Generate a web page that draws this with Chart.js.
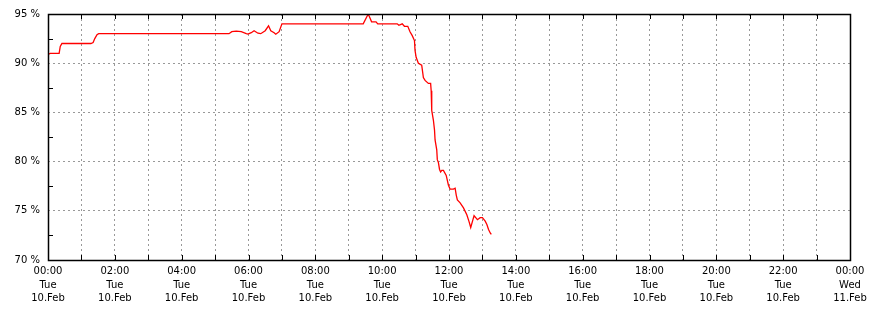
<!DOCTYPE html>
<html>
<head>
<meta charset="utf-8">
<script src="https://cdn.jsdelivr.net/npm/chart.js@4.4.1/dist/chart.umd.min.js"></script>
<style>
  html, body { margin: 0; padding: 0; background: #fff; }
  #wrap { width: 870px; height: 310px; }
</style>
</head>
<body>
<div id="wrap"><canvas id="chart" width="870" height="310"></canvas></div>
<script>
// minutes since 00:00 Tue 10.Feb
const minutes = [0, 4, 20, 22, 25, 77, 81, 84, 88, 91, 325, 330, 338, 347, 356, 359, 365, 370, 377, 382,
  390, 396, 400, 406, 409, 415, 420, 566, 575, 581, 589, 592, 627, 630, 636, 640, 646, 650, 654, 658,
  659, 661, 665, 671, 674, 677, 683, 687, 688, 689, 692, 694, 695, 698, 699, 701, 703, 705, 707, 710,
  715, 719, 722, 728, 731, 733, 735, 740, 746, 752, 756, 759, 763, 765, 768, 771, 776, 780, 785, 788,
  791, 794, 796];
// utilisation in %
const usage = [90.9, 91.0, 91.0, 91.7, 92.0, 92.0, 92.1, 92.5, 92.9, 93.0, 93.0, 93.2, 93.25, 93.2, 93.0, 92.95, 93.1, 93.3, 93.05, 93.0,
  93.3, 93.8, 93.3, 93.1, 92.95, 93.2, 94.0, 94.0, 95.0, 94.2, 94.2, 94.0, 94.0, 93.85, 94.0, 93.75, 93.75, 93.2, 92.8, 92.3,
  91.3, 90.6, 90.0, 89.8, 88.55, 88.25, 87.95, 87.95, 87.2, 85.2, 84.2, 83.2, 82.2, 81.2, 80.2, 79.9, 79.2, 78.95, 79.1, 79.1,
  78.6, 77.6, 77.2, 77.2, 77.3, 76.6, 76.1, 75.8, 75.3, 74.6, 73.9, 73.3, 74.1, 74.5, 74.3, 74.1, 74.3, 74.3, 73.95, 73.6,
  73.1, 72.75, 72.6];

const hourLabels = ["00:00", "02:00", "04:00", "06:00", "08:00", "10:00", "12:00", "14:00", "16:00", "18:00", "20:00", "22:00", "00:00"];
const dayLabels = ["Tue", "Tue", "Tue", "Tue", "Tue", "Tue", "Tue", "Tue", "Tue", "Tue", "Tue", "Tue", "Wed"];
const dateLabels = ["10.Feb", "10.Feb", "10.Feb", "10.Feb", "10.Feb", "10.Feb", "10.Feb", "10.Feb", "10.Feb", "10.Feb", "10.Feb", "10.Feb", "11.Feb"];

const points = minutes.map((m, i) => ({ x: m, y: usage[i] }));

// frame and inward tick marks
const frame = {
  id: "frame",
  afterDraw(chart) {
    const { ctx, chartArea: a, scales } = chart;
    ctx.save();
    ctx.strokeStyle = "#000";
    ctx.lineWidth = 1;
    ctx.beginPath();
    for (let m = 60; m < 1440; m += 60) {
      const x = Math.round(scales.x.getPixelForValue(m)) + 0.5;
      ctx.moveTo(x, a.top); ctx.lineTo(x, a.top + 5);
      ctx.moveTo(x, a.bottom); ctx.lineTo(x, a.bottom - 5);
    }
    for (let v = 72.5; v < 95; v += 5) {
      const y = Math.round(scales.y.getPixelForValue(v)) + 0.5;
      ctx.moveTo(a.left, y); ctx.lineTo(a.left + 5, y);
    }
    ctx.stroke();
    ctx.lineWidth = 1.5;
    ctx.strokeRect(Math.round(a.left) + 0.5, Math.round(a.top) + 0.5,
      Math.round(a.right - a.left), Math.round(a.bottom - a.top));
    ctx.restore();
  }
};

new Chart(document.getElementById("chart").getContext("2d"), {
  type: "line",
  data: {
    datasets: [{
      data: points,
      borderColor: "#ff0000",
      borderWidth: 1.3,
      pointRadius: 0,
      tension: 0,
      fill: false
    }]
  },
  options: {
    responsive: false,
    animation: false,
    layout: { padding: { left: 0, top: 13, right: 20, bottom: 0 } },
    plugins: { legend: { display: false }, tooltip: { enabled: false } },
    scales: {
      x: {
        type: "linear",
        min: 0,
        max: 1440,
        afterFit(scale) {
          scale.height = 50;
          scale.paddingLeft = 0;
          scale.paddingRight = 0;
        },
        afterBuildTicks(scale) {
          scale.ticks = [];
          for (let m = 0; m <= 1440; m += 60) scale.ticks.push({ value: m });
        },
        ticks: {
          autoSkip: false,
          maxRotation: 0,
          padding: 5,
          color: "#000",
          font: { family: "DejaVu Sans", size: 10, lineHeight: 1.35 },
          callback(v) {
            if (v % 120 !== 0) return "";
            const i = v / 120;
            return [hourLabels[i], dayLabels[i], dateLabels[i]];
          }
        },
        grid: {
          drawTicks: false,
          color: (c) => (c.tick && (c.tick.value === 0 || c.tick.value === 1440)) ? "rgba(0,0,0,0)" : "#999",
          lineWidth: 1
        },
        border: { display: false, dash: [2, 3] }
      },
      y: {
        min: 70,
        max: 95,
        afterFit(scale) { scale.width = 48; },
        afterBuildTicks(scale) {
          scale.ticks = [];
          for (let v = 70; v <= 95; v += 5) scale.ticks.push({ value: v });
        },
        ticks: {
          padding: 8,
          color: "#000",
          font: { family: "DejaVu Sans", size: 10 },
          callback: (v) => v + " %"
        },
        grid: {
          drawTicks: false,
          color: (c) => (c.tick && (c.tick.value === 70 || c.tick.value === 95)) ? "rgba(0,0,0,0)" : "#999",
          lineWidth: 1
        },
        border: { display: false, dash: [2, 3] }
      }
    }
  },
  plugins: [frame]
});
</script>
</body>
</html>
